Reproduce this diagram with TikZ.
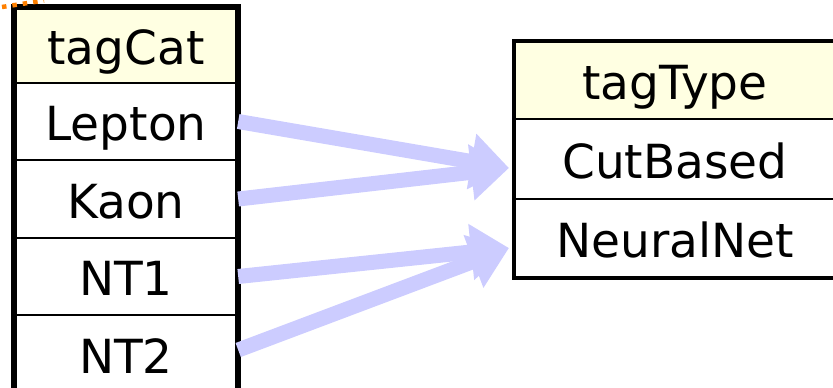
\documentclass[tikz,border=0pt]{standalone}
\usepackage{fontspec}
\setmainfont{DejaVu Sans}
\usetikzlibrary{arrows.meta}
\definecolor{hdr}{RGB}{255,255,226}
\definecolor{arr}{RGB}{204,204,255}
\definecolor{dotor}{RGB}{255,128,0}
\tikzset{
  cell/.style={inner sep=0pt, minimum height=#1, text height=38pt, text depth=0pt, font=\fontsize{47}{50}\selectfont},
  lcell/.style={cell=77pt, minimum width=224pt},
  rcell/.style={cell=78pt, minimum width=320pt},
  border/.style={line width=6pt},
  sep/.style={line width=2.5pt},
  link/.style={draw=arr, line width=15pt, -{Triangle[length=38pt,width=54pt]}}
}
\begin{document}
\begin{tikzpicture}[x=1pt,y=-1pt]
\useasboundingbox (0,0) rectangle (833,388);
\clip (0,0) rectangle (833,388);
% left table
\fill[hdr] (14,7) rectangle (238,83);
\node[lcell] (tagcat) at (126,45) {tagCat};
\node[lcell] (lep) at (126,121.5) {Lepton};
\node[lcell] (kaon) at (126,199) {Kaon};
\node[lcell] (nt1) at (126,276.5) {NT1};
\node[lcell] (nt2) at (126,354) {NT2};
\draw[sep] (14,83) -- (238,83);
\draw[sep] (14,160) -- (238,160);
\draw[sep] (14,238) -- (238,238);
\draw[sep] (14,315) -- (238,315);
\draw[border] (14,400) -- (14,7) -- (238,7) -- (238,400);
% right table
\fill[hdr] (514,41) rectangle (840,119);
\node[rcell] (tagtype) at (675,80) {tagType};
\node[rcell] (cut) at (675,159) {CutBased};
\node[rcell] (nn) at (675,238.5) {NeuralNet};
\draw[sep] (514,119) -- (840,119);
\draw[sep] (514,199) -- (840,199);
\draw[line width=4.5pt] (840,41) -- (514,41) -- (514,278) -- (840,278);
% orange dotted fragment
\draw[dotor, line width=4.5pt, dash pattern=on 4.5pt off 6pt] (2,7) -- (44,0.5);
% arrows
\coordinate (tipA) at (509,168);
\coordinate (tipB) at (509,248);
\draw[link] (lep.east) -- (tipA);
\draw[link] (kaon.east) -- (tipA);
\draw[link] (nt1.east) -- (tipB);
\draw[link] ([yshift=4pt]nt2.east) -- (tipB);
\end{tikzpicture}
\end{document}
